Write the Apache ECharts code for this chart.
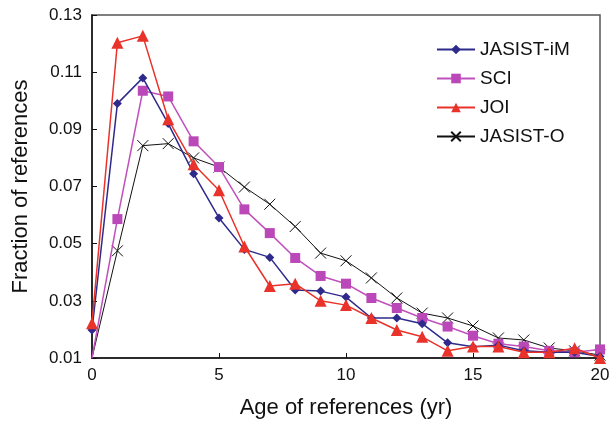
<!DOCTYPE html>
<html><head><meta charset="utf-8">
<script src="https://cdn.jsdelivr.net/npm/echarts@6/dist/echarts.min.js"></script>
<style>html,body{margin:0;padding:0;background:#fff}#c{width:616px;height:424px}</style>
</head><body><div id="c"></div>
<script>
var years = [0,1,2,3,4,5,6,7,8,9,10,11,12,13,14,15,16,17,18,19,20];
var jasistIM = [0.0198,0.0990,0.1080,0.0920,0.0745,0.0590,0.0480,0.0452,0.0338,0.0334,0.0313,0.0240,0.0240,0.0220,0.0153,0.0139,0.0145,0.0125,0.0120,0.0120,0.0105];
var sci      = [0.0100,0.0586,0.1035,0.1015,0.0858,0.0768,0.0620,0.0537,0.0450,0.0387,0.0360,0.0310,0.0275,0.0240,0.0210,0.0178,0.0150,0.0140,0.0125,0.0120,0.0130];
var joi      = [0.0222,0.1203,0.1227,0.0935,0.0778,0.0687,0.0490,0.0352,0.0360,0.0300,0.0285,0.0240,0.0198,0.0174,0.0125,0.0140,0.0140,0.0120,0.0120,0.0134,0.0100];
var jasistO  = [0.0100,0.0475,0.0843,0.0850,0.0800,0.0768,0.0698,0.0638,0.0560,0.0467,0.0440,0.0380,0.0310,0.0257,0.0240,0.0212,0.0170,0.0163,0.0135,0.0125,0.0110];
var yTicks = [0.01,0.03,0.05,0.07,0.09,0.11,0.13];
var xTicks = [0,5,10,15,20];
var names = ['JASIST-iM','SCI','JOI','JASIST-O'];

var Y_MIN = 0.01, Y_MAX = 0.13;
function pairs(arr, hideAtCorner){
  return years.map(function(x,i){
    var item = {value:[x, arr[i]]};
    if (hideAtCorner && x === years[0] && arr[i] <= Y_MIN) item.symbol = 'none';
    return item;
  });
}
var chart = echarts.init(document.getElementById('c'), null, {renderer:'canvas'});
var font = 'Liberation Sans, Arial, sans-serif';
chart.setOption({
  animation:false,
  grid:{left:92,right:16,top:15,bottom:66,show:true,borderColor:'#555',borderWidth:1.5},
  legend:{
    orient:'vertical', left:431, top:35, itemWidth:38, itemHeight:12, itemGap:10,
    textStyle:{fontFamily:font,fontSize:19,color:'#111'},
    data:names
  },
  xAxis:{
    type:'value', min:0, max:20, interval:5,
    name:'Age of references (yr)', nameLocation:'middle', nameGap:39,
    nameTextStyle:{fontFamily:font,fontSize:22,color:'#111'},
    axisLine:{lineStyle:{color:'#111',width:1.5}},
    axisTick:{inside:true,length:5,customValues:xTicks,lineStyle:{color:'#111'}},
    axisLabel:{fontFamily:font,fontSize:17,color:'#111',margin:9,customValues:xTicks},
    splitLine:{show:false}
  },
  yAxis:{
    type:'value', min:Y_MIN, max:Y_MAX,
    name:'Fraction of references', nameLocation:'middle', nameGap:60,
    nameTextStyle:{fontFamily:font,fontSize:22,color:'#111'},
    axisLine:{show:true,lineStyle:{color:'#111',width:1.5}},
    axisTick:{show:true,inside:true,length:5,customValues:yTicks,lineStyle:{color:'#111'}},
    axisLabel:{fontFamily:font,fontSize:17,color:'#111',margin:10,customValues:yTicks,
      formatter:function(v){return v.toFixed(2);}},
    splitLine:{show:false}
  },
  series:[
    {name:names[0],type:'line',data:pairs(jasistIM,true),symbol:'diamond',symbolSize:9,
     lineStyle:{color:'#2e2a8c',width:1.5},itemStyle:{color:'#2e2a8c'},z:4},
    {name:names[1],type:'line',data:pairs(sci,true),symbol:'rect',symbolSize:10,
     lineStyle:{color:'#c050bc',width:1.5},itemStyle:{color:'#bb48b8'},z:3},
    {name:names[2],type:'line',data:pairs(joi,true),symbol:'triangle',symbolSize:12,
     lineStyle:{color:'#e8322a',width:1.5},itemStyle:{color:'#e8322a'},z:5},
    {name:names[3],type:'line',data:pairs(jasistO,true),symbol:'path://M0 0L10 10M10 0L0 10',symbolSize:11,
     lineStyle:{color:'#111',width:1},itemStyle:{color:'rgba(0,0,0,0)',borderColor:'#111',borderWidth:1},z:2}
  ]
});
</script></body></html>
